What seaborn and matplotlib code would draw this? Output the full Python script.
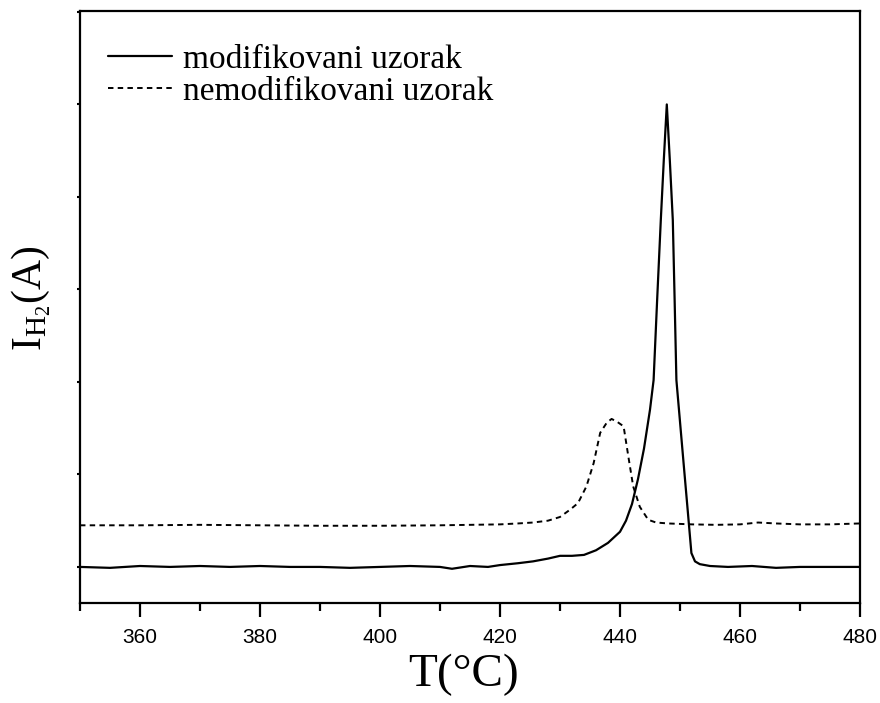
import matplotlib
matplotlib.use("Agg")
import matplotlib.pyplot as plt
from matplotlib.ticker import MultipleLocator, NullFormatter
import seaborn as sns
import pandas as pd

# ---- data (arbitrary current units) ----
t_mod = [350, 355, 360, 365, 370, 375, 380, 385, 390, 395, 400, 405, 410, 412,
         415, 418, 420, 423, 425.5, 428, 430, 432, 434, 436, 438, 440, 441, 442,
         443, 444, 445, 445.6, 446.2, 446.8, 447.3, 447.8, 448.3, 448.8, 449.1,
         449.4, 450, 450.6, 451.3, 451.9, 452.5, 453.3, 455, 458, 462, 466, 470,
         475, 480]
i_mod = [0.0, -0.01, 0.01, 0.0, 0.01, 0.0, 0.01, 0.0, 0.0, -0.01, 0.0, 0.01, 0.0,
         -0.02, 0.01, 0.0, 0.02, 0.04, 0.06, 0.09, 0.12, 0.12, 0.13, 0.18, 0.26,
         0.38, 0.50, 0.68, 0.95, 1.28, 1.70, 2.02, 2.90, 3.75, 4.40, 5.00, 4.40,
         3.75, 2.90, 2.02, 1.57, 1.12, 0.60, 0.15, 0.06, 0.03, 0.01, 0.0, 0.01,
         -0.01, 0.0, 0.0, 0.0]

t_nemod = [350, 360, 370, 380, 390, 400, 410, 415, 420, 423, 425.5, 428, 430,
           431.7, 433, 434.4, 435.6, 436.7, 437.8, 438.6, 439.5, 440.6, 441.4,
           442.2, 443.3, 444.7, 446, 448, 452, 456, 460, 463, 466, 470, 475, 480]
i_nemod = [0.45, 0.45, 0.455, 0.45, 0.445, 0.445, 0.45, 0.455, 0.46, 0.47, 0.48,
           0.50, 0.54, 0.62, 0.69, 0.87, 1.12, 1.45, 1.56, 1.60, 1.57, 1.52,
           1.19, 0.87, 0.65, 0.51, 0.48, 0.47, 0.46, 0.455, 0.46, 0.48, 0.47,
           0.46, 0.46, 0.47]

labels = ["modifikovani uzorak", "nemodifikovani uzorak"]
x_ticks = [360, 380, 400, 420, 440, 460, 480]

df_mod = pd.DataFrame({"T": t_mod, "I": i_mod})
df_nemod = pd.DataFrame({"T": t_nemod, "I": i_nemod})

sns.set_style("ticks")
plt.rcParams["font.family"] = ["Liberation Sans", "DejaVu Sans"]
plt.rcParams["mathtext.fontset"] = "custom"
plt.rcParams["mathtext.rm"] = "Liberation Serif"
plt.rcParams["mathtext.it"] = "Liberation Serif:italic"
plt.rcParams["text.color"] = "black"
plt.rcParams["axes.labelcolor"] = "black"
plt.rcParams["xtick.color"] = "black"
plt.rcParams["ytick.color"] = "black"

fig = plt.figure(figsize=(8.8, 7.03), dpi=100)
ax = fig.add_axes([80 / 880, 1 - 603 / 703, 780 / 880, 592 / 703])

sns.lineplot(data=df_mod, x="T", y="I", ax=ax, color="black", lw=1.6,
             label=labels[0])
sns.lineplot(data=df_nemod, x="T", y="I", ax=ax, color="black", lw=1.4,
             label=labels[1], dashes=False)
ax.lines[1].set_dashes((2.8, 2.2))

ax.set_xlim(350, 480)
ax.set_ylim(-0.39, 6.01)
ax.set_xticks(x_ticks)
ax.xaxis.set_minor_locator(MultipleLocator(10))
ax.set_yticks(range(0, 7))
ax.yaxis.set_major_formatter(NullFormatter())

for s in ax.spines.values():
    s.set_linewidth(1.6)
    s.set_color("black")

ax.tick_params(axis="x", which="major", direction="out", length=10, width=1.6,
               labelsize=15, pad=8, colors="black")
ax.tick_params(axis="x", which="minor", direction="out", length=6, width=1.6)
ax.tick_params(axis="y", which="major", direction="out", length=2, width=1.5)

ax.set_xlabel("T(°C)", fontsize=34, family=["Liberation Serif", "DejaVu Serif"],
              color="black")
ax.set_ylabel(r"$\mathregular{I_{H_2}(A)}$", fontsize=30,
              family=["Liberation Serif", "DejaVu Serif"], color="black")
ax.xaxis.set_label_coords(0.492, -0.085)
ax.yaxis.set_label_coords(-0.035, 0.515)

leg = ax.legend(loc="upper left", bbox_to_anchor=(0.036, 0.944), frameon=False,
                prop={"family": "Liberation Serif", "size": 24},
                handlelength=1.92, handletextpad=0.33, labelspacing=0.05,
                borderpad=0, borderaxespad=0)
for txt in leg.get_texts():
    txt.set_color("black")

fig.savefig("out.png", dpi=100)
